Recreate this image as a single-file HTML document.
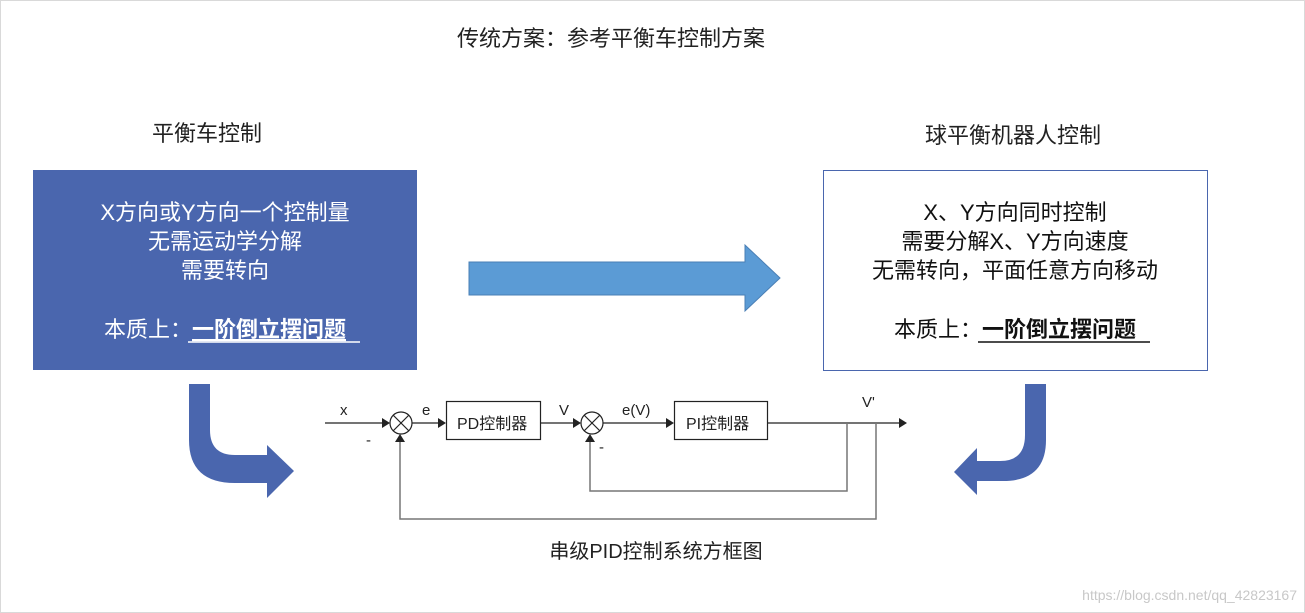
<!DOCTYPE html>
<html><head><meta charset="utf-8"><style>
body{margin:0;background:#fff}
svg{display:block}
text{font-family:"Liberation Sans","Noto Sans CJK SC",sans-serif}
</style></head><body>
<svg width="1305" height="613" viewBox="0 0 1305 613" xmlns="http://www.w3.org/2000/svg">
<rect x="0.5" y="0.5" width="1304" height="612" fill="#fff" stroke="#d9d9d9"/>
<text x="611" y="46" font-size="22" text-anchor="middle" fill="#222">传统方案：参考平衡车控制方案</text>
<text x="207" y="141" font-size="22" text-anchor="middle" fill="#222">平衡车控制</text>
<text x="1013" y="143" font-size="22" text-anchor="middle" fill="#222">球平衡机器人控制</text>
<rect x="33" y="170" width="384" height="200" fill="#4a66ae"/>
<g font-size="22" fill="#fff" text-anchor="middle">
<text x="225" y="220">X方向或Y方向一个控制量</text>
<text x="225" y="249">无需运动学分解</text>
<text x="225" y="278">需要转向</text>
<text x="225" y="337">本质上：<tspan font-weight="bold" text-decoration="underline">一阶倒立摆问题</tspan></text>
</g>
<line x1="188" y1="342" x2="360" y2="342" stroke="#fff" stroke-width="1.5"/>
<rect x="823.5" y="170.5" width="384" height="200" fill="#fff" stroke="#4a66ae"/>
<g font-size="22" fill="#111" text-anchor="middle">
<text x="1015" y="220">X、Y方向同时控制</text>
<text x="1015" y="249">需要分解X、Y方向速度</text>
<text x="1015" y="278">无需转向，平面任意方向移动</text>
<text x="1015" y="337">本质上：<tspan font-weight="bold">一阶倒立摆问题</tspan></text>
</g>
<line x1="978" y1="342" x2="1150" y2="342" stroke="#111" stroke-width="1.5"/>
<polygon points="469,262 745,262 745,245 780,278 745,311 745,295 469,295" fill="#5b9bd5" stroke="#4a7fb5"/>
<path d="M189,384 L210,384 L210,430 Q210,455 235,455 L267,455 L267,445 L294,471 L267,498 L267,483 L235,483 Q189,483 189,440 Z" fill="#4a66ae"/>
<path d="M1046,384 L1025,384 L1025,435 Q1025,461 1000,461 L977,461 L977,448 L954,472 L977,495 L977,481 L1003,481 Q1046,481 1046,440 Z" fill="#4a66ae"/>
<g stroke="#222" stroke-width="1.2" fill="none">
<line x1="325" y1="423" x2="384" y2="423"/>
<line x1="412" y1="423" x2="440" y2="423"/>
<line x1="541" y1="423" x2="575" y2="423"/>
<line x1="603" y1="423" x2="668" y2="423"/>
<line x1="767" y1="423" x2="900" y2="423"/>
<circle cx="401" cy="423" r="11"/>
<circle cx="592" cy="423" r="11"/>
<line x1="393" y1="415" x2="409" y2="431"/><line x1="409" y1="415" x2="393" y2="431"/>
<line x1="584" y1="415" x2="600" y2="431"/><line x1="600" y1="415" x2="584" y2="431"/>
<rect x="446.5" y="401.5" width="94" height="38"/>
<rect x="674.5" y="401.5" width="93" height="38"/>
</g>
<g stroke="#777" stroke-width="1.5" fill="none">
<polyline points="847,423 847,491 590,491 590,440"/>
<polyline points="876,423 876,519 400,519 400,440"/>
</g>
<g fill="#222">
<polygon points="390,423 382,418 382,428"/>
<polygon points="446,423 438,418 438,428"/>
<polygon points="581,423 573,418 573,428"/>
<polygon points="674,423 666,418 666,428"/>
<polygon points="907,423 899,418 899,428"/>
<polygon points="400,434 395,442 405,442"/>
<polygon points="590,434 585,442 595,442"/>
</g>
<g font-size="15" fill="#222">
<text x="340" y="415">x</text>
<text x="366" y="445">-</text>
<text x="422" y="415">e</text>
<text x="559" y="415">V</text>
<text x="622" y="415">e(V)</text>
<text x="599" y="452">-</text>
<text x="862" y="407">V'</text>
<text x="457" y="429" font-size="16">PD控制器</text>
<text x="686" y="429" font-size="16">PI控制器</text>
</g>
<text x="656" y="558" font-size="20" text-anchor="middle" fill="#222">串级PID控制系统方框图</text>
<text x="1297" y="600" font-size="14" text-anchor="end" fill="#c8c8c8">https://blog.csdn.net/qq_42823167</text>
</svg>
</body></html>
